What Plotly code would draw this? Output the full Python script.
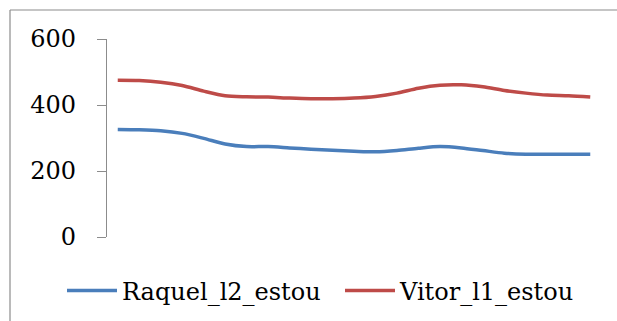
import plotly.graph_objects as go

# Sample positions along the category axis
categories = [str(i + 1) for i in range(23)]

raquel_l2_estou = [326, 325, 322, 314, 299, 282, 274, 274, 270, 266, 263, 260,
                   258, 262, 269, 274, 270, 262, 254, 251, 251, 251, 251]
vitor_l1_estou = [475, 474, 469, 459, 442, 428, 425, 424, 421, 419, 419, 421,
                  426, 436, 451, 460, 461, 455, 444, 436, 430, 428, 424]

y_ticks = [0, 200, 400, 600]

W, H = 617, 321
L, R, T, B = 107, 16, 39, 84
pw, ph = W - L - R, H - T - B


def px_x(px):
    return (px - L) / pw


def px_y(py):
    return (H - B - py) / ph


serif = "DejaVu Serif"

fig = go.Figure()
fig.add_trace(go.Scatter(
    x=categories, y=raquel_l2_estou, mode="lines", name="Raquel_l2_estou",
    line=dict(color="#4A7EBB", width=3.5, shape="spline", smoothing=0.8),
    legend="legend",
))
fig.add_trace(go.Scatter(
    x=categories, y=vitor_l1_estou, mode="lines", name="Vitor_l1_estou",
    line=dict(color="#BE4B48", width=3.5, shape="spline", smoothing=0.8),
    legend="legend2",
))

# Chart-area frame: top and left edges (the rest runs off the page)
frame = dict(color="#8C8C8C", width=1.2)
fig.add_shape(type="line", xref="paper", yref="paper",
              x0=px_x(10), x1=px_x(W + 5), y0=px_y(10), y1=px_y(10),
              line=frame, layer="below")
fig.add_shape(type="line", xref="paper", yref="paper",
              x0=px_x(10), x1=px_x(10), y0=px_y(10), y1=px_y(H + 5),
              line=frame, layer="below")

legend_common = dict(
    orientation="h", yanchor="middle", y=px_y(291), xanchor="left",
    font=dict(family=serif, size=24, color="black"),
    itemwidth=50, bgcolor="rgba(0,0,0,0)",
)

fig.update_layout(
    width=W, height=H,
    margin=dict(l=L, r=R, t=T, b=B, autoexpand=False),
    paper_bgcolor="white", plot_bgcolor="white",
    font=dict(family=serif),
    showlegend=True,
    legend=dict(legend_common, x=px_x(62)),
    legend2=dict(legend_common, x=px_x(340)),
    xaxis=dict(
        type="category", range=[-0.5, len(categories) - 0.5],
        showline=False, showgrid=False, zeroline=False,
        showticklabels=False, ticks="",
    ),
    yaxis=dict(
        range=[0, 600], tickvals=y_ticks,
        showline=True, linecolor="#8C8C8C", linewidth=1.2,
        ticks="outside", ticklen=9, tickcolor="#8C8C8C", tickwidth=1.2,
        showgrid=False, zeroline=False,
        tickfont=dict(family=serif, size=24, color="black"),
        ticklabelstandoff=16,
    ),
)

fig.write_html("out.html", config={"displayModeBar": False})
